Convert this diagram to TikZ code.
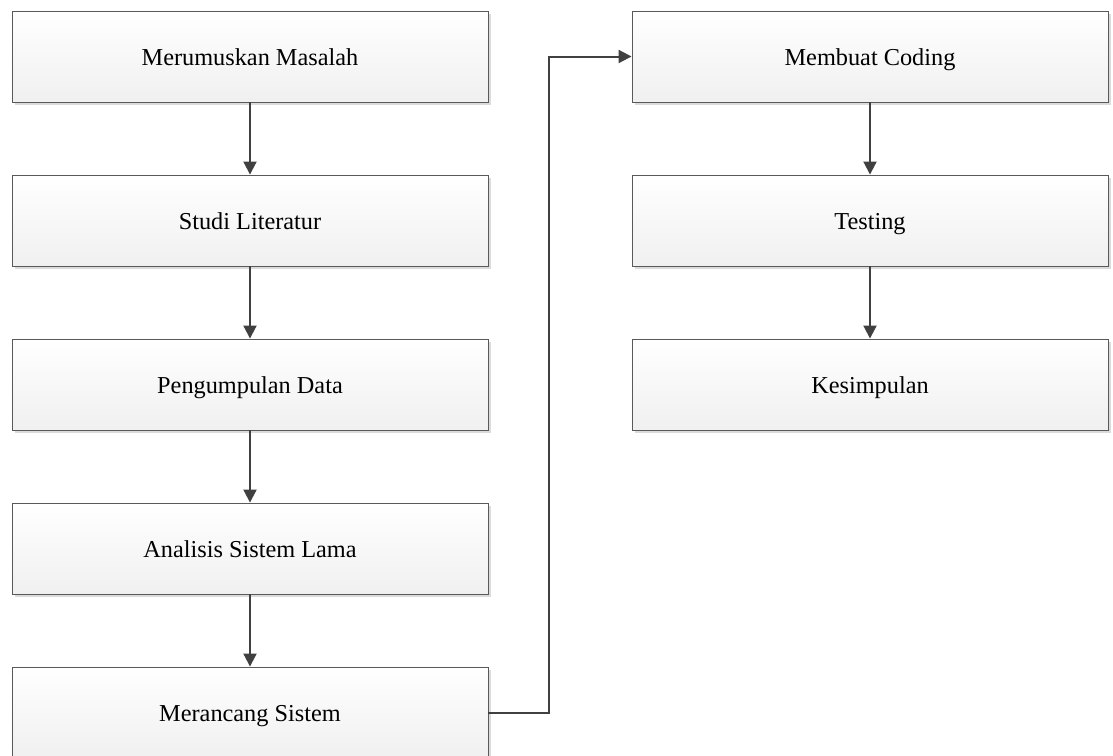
\documentclass[tikz,border=0pt]{standalone}
\usepackage{fontspec}
\setmainfont{Liberation Serif}
\usetikzlibrary{arrows.meta,shadows}
\begin{document}
\begin{tikzpicture}[x=1pt,y=-1pt,
  stepbox/.style={draw=black!65, line width=0.9pt, minimum width=476pt, minimum height=91pt,
    top color=white, bottom color=black!6, inner sep=0pt, text height=19pt, text depth=2pt,
    drop shadow={shadow xshift=2.5pt, shadow yshift=-2.5pt, fill=black!14, opacity=1},
    font=\fontsize{24.3}{28}\selectfont},
  flow/.style={draw=black!75, line width=2pt, -{Triangle[length=13pt,width=13pt]}}]
\clip (0,0) rectangle (1113,755);
\useasboundingbox (0,0) rectangle (1113,755);
\node[stepbox] (s1) at (250,56.5) {Merumuskan Masalah};
\node[stepbox] (s2) at (250,220.5) {Studi Literatur};
\node[stepbox] (s3) at (250,384.5) {Pengumpulan Data};
\node[stepbox] (s4) at (250,548.5) {Analisis Sistem Lama};
\node[stepbox] (s5) at (250,712.5) {Merancang Sistem};
\node[stepbox] (s6) at (870,56.5) {Membuat Coding};
\node[stepbox] (s7) at (870,220.5) {Testing};
\node[stepbox] (s8) at (870,384.5) {Kesimpulan};
\draw[flow] (s1) -- (s2);
\draw[flow] (s2) -- (s3);
\draw[flow] (s3) -- (s4);
\draw[flow] (s4) -- (s5);
\draw[flow] (s6) -- (s7);
\draw[flow] (s7) -- (s8);
\coordinate (bend) at (549,0);
\draw[flow] (s5.east) -| (bend |- s6.west) -- (s6.west);
\end{tikzpicture}
\end{document}
